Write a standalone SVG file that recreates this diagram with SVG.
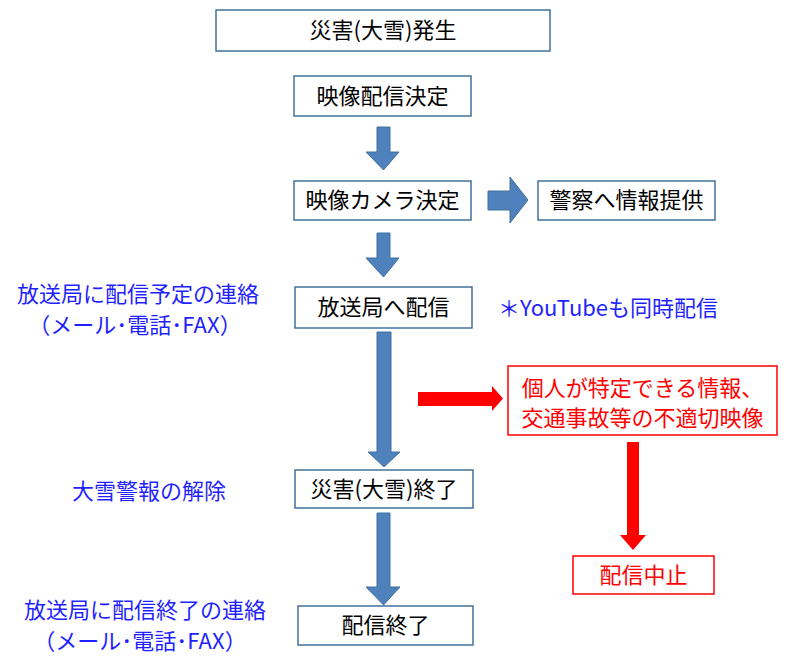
<svg xmlns="http://www.w3.org/2000/svg" width="787" height="661" viewBox="0 0 787 661">
<style>
  .box{fill:#ffffff;stroke:#41719c;stroke-width:1.5}
  .rbox{fill:#ffffff;stroke:#ff0000;stroke-width:1.5}
  .t{font-family:"Noto Sans CJK JP","Liberation Sans",sans-serif;font-size:22px;fill:#000000;text-anchor:middle}
  .r{fill:#ff0000}
  .b{font-family:"Noto Sans CJK JP","Liberation Sans",sans-serif;font-size:22px;fill:#1f1fff;text-anchor:middle}
  .ba{fill:#4f81bd;stroke:#41719c;stroke-width:1}
  .ra{fill:#ff0000}
</style>
<rect width="787" height="661" fill="#ffffff"/>
<g id="connectors">
  <polygon class="ba" points="377,127 390,127 390,152 399,152 383.5,170 366,152 377,152"/>
  <polygon class="ba" points="488,191 510,191 510,177 528,200 510,223 510,210 488,210"/>
  <polygon class="ba" points="377,233 390,233 390,258 399,258 383.5,277 366,258 377,258"/>
  <polygon class="ba" points="377,332 391,332 391,452 400,452 384,467 368,452 377,452"/>
  <polygon class="ba" points="377,513 390,513 390,587 400,587 383.5,605 366,587 377,587"/>
  <polygon class="ra" points="418,392 492,392 492,386 503,398.5 492,411 492,406 418,406"/>
  <polygon class="ra" points="627,442 639,442 639,535 646,535 633,550 620,535 627,535"/>
</g>
<g id="n1"><rect class="box" x="216" y="10" width="334" height="41"/><text class="t" x="383" y="38">災害(大雪)発生</text></g>
<g id="n2"><rect class="box" x="294" y="76" width="177" height="40"/><text class="t" x="382.5" y="104">映像配信決定</text></g>
<g id="n3"><rect class="box" x="294" y="181" width="177" height="39"/><text class="t" x="382.5" y="208">映像カメラ決定</text></g>
<g id="n4"><rect class="box" x="538" y="181" width="177" height="39"/><text class="t" x="626.5" y="208">警察へ情報提供</text></g>
<g id="n5"><rect class="box" x="295" y="287" width="177" height="41"/><text class="t" x="383.5" y="315">放送局へ配信</text></g>
<g id="n6"><text class="b" x="608" y="316">＊YouTubeも同時配信</text></g>
<g id="n7"><text class="b" x="138" y="302">放送局に配信予定の連絡</text><text class="b" x="135" y="333">（メール･電話･FAX）</text></g>
<g id="n8"><rect class="rbox" x="508" y="366" width="269" height="69"/><text class="t r" x="642.5" y="396">個人が特定できる情報、</text><text class="t r" x="642.5" y="426">交通事故等の不適切映像</text></g>
<g id="n9"><rect class="box" x="295" y="470" width="178" height="38"/><text class="t" x="384" y="497">災害(大雪)終了</text></g>
<g id="n10"><text class="b" x="149" y="499">大雪警報の解除</text></g>
<g id="n11"><rect class="rbox" x="573" y="556" width="141" height="38"/><text class="t r" x="643.5" y="583">配信中止</text></g>
<g id="n12"><rect class="box" x="298" y="606" width="175" height="39"/><text class="t" x="385.5" y="633">配信終了</text></g>
<g id="n13"><text class="b" x="145" y="618">放送局に配信終了の連絡</text><text class="b" x="140" y="649">（メール･電話･FAX）</text></g>
</svg>
